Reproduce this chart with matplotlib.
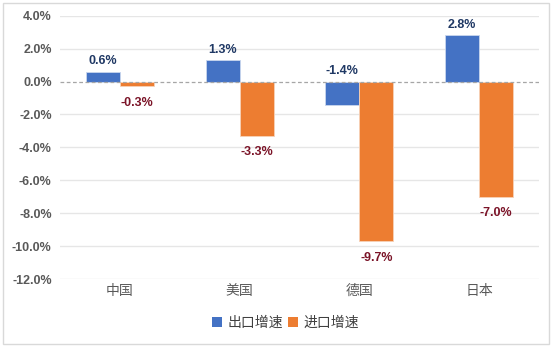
import matplotlib.pyplot as plt
from matplotlib.patches import Patch, Rectangle
import numpy as np

plt.rcParams['font.family'] = ['Liberation Sans', 'Noto Sans CJK SC', 'DejaVu Sans']

countries = ['中国', '美国', '德国', '日本']
export_growth = [0.6, 1.3, -1.4, 2.8]
import_growth = [-0.3, -3.3, -9.7, -7.0]
series_names = ['出口增速', '进口增速']

blue = '#4472C4'
orange = '#ED7D31'
cjk = ['Noto Sans CJK SC', 'DejaVu Sans']

fig = plt.figure(figsize=(5.54, 3.50), dpi=100)
ax = fig.add_axes([60/554, 1-279/350, 479/554, (279-15.7)/350])

x = np.arange(len(countries))
w = 0.284
ax.bar(x - w/2, export_growth, w, color=blue, edgecolor='#C9D6EE', linewidth=0.6, zorder=2)
ax.bar(x + w/2, import_growth, w, color=orange, edgecolor='#F7D2B8', linewidth=0.6, zorder=2)

ax.set_ylim(-12, 4)
ax.set_xlim(-0.5, len(countries) - 0.5)
yt = np.arange(-12, 4.1, 2)
ax.set_yticks(yt)
ax.set_yticklabels(['%.1f%%' % v for v in yt], fontsize=9, fontweight='bold', color='#595959')
ax.set_xticks(x)
ax.set_xticklabels(countries, fontsize=10, color='#595959', family=cjk)
ax.tick_params(axis='both', length=0)
ax.tick_params(axis='y', pad=6)
ax.tick_params(axis='x', pad=3.5)
for s in ax.spines.values():
    s.set_visible(False)
for v in yt:
    if v != 0:
        ax.axhline(v, color='#E6E6E6', lw=1, zorder=0)
ax.axhline(0, color='#A6A6A6', lw=0.9, ls=(0, (3, 2)), zorder=3)

# data labels
for i, v in enumerate(export_growth):
    ax.annotate('%.1f%%' % v, (x[i] - w/2, max(v, 0)), xytext=(0, 3.2), textcoords='offset points',
                ha='center', va='bottom', fontsize=9, fontweight='bold', color='#1F3864')
for i, v in enumerate(import_growth):
    ax.annotate('%.1f%%' % v, (x[i] + w/2, v), xytext=(0, -7.5), textcoords='offset points',
                ha='center', va='top', fontsize=9, fontweight='bold', color='#7B1428')

handles = [Patch(facecolor=blue), Patch(facecolor=orange)]
fig.legend(handles, series_names, loc='center', bbox_to_anchor=(285.5/554, 1-322.7/350),
           ncol=2, frameon=False, handlelength=0.7, handleheight=0.7, handletextpad=0.4,
           columnspacing=0.4, prop={'family': cjk, 'size': 10}, labelcolor='#404040')

fig.patches.append(Rectangle((3/554, 1-344/350), 546/554, 341/350, transform=fig.transFigure,
                             fill=False, edgecolor='#D9D9D9', lw=1))

fig.savefig('out.png', dpi=100)
